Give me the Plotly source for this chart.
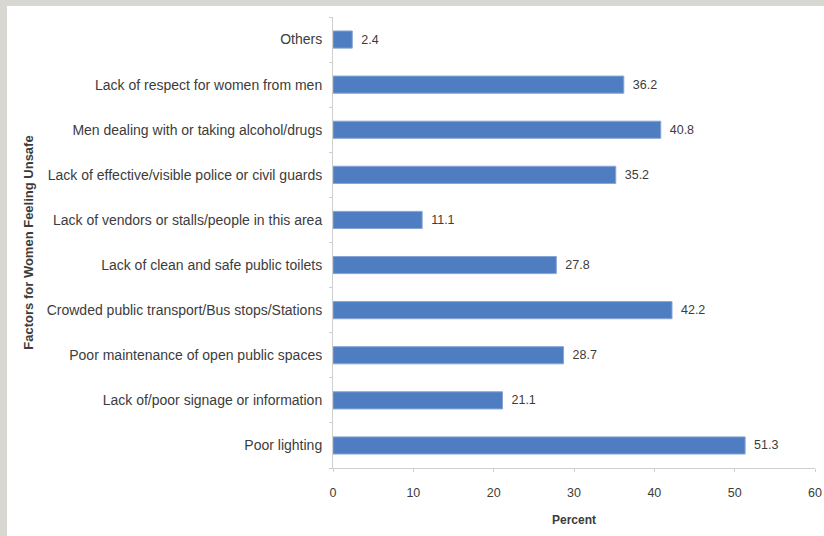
import plotly.graph_objects as go

categories = [
    "Poor lighting",
    "Lack of/poor signage or information",
    "Poor maintenance of open public spaces",
    "Crowded public transport/Bus stops/Stations",
    "Lack of clean and safe public toilets",
    "Lack of vendors or stalls/people in this area",
    "Lack of effective/visible police or civil guards",
    "Men dealing with or taking alcohol/drugs",
    "Lack of respect for women from men",
    "Others",
]
values = [51.3, 21.1, 28.7, 42.2, 27.8, 11.1, 35.2, 40.8, 36.2, 2.4]
x_ticks = [0, 10, 20, 30, 40, 50, 60]

W, H = 824, 536
ML, MR, MT, MB = 333, 9, 17, 68
pw = W - ML - MR
ph = H - MT - MB

font_fam = "Liberation Sans, Arial, sans-serif"
txt = "#3c3c3c"

fig = go.Figure(go.Bar(
    x=values, y=categories, orientation="h",
    marker=dict(color="#4F7DC1", line=dict(color="#86a5d6", width=1)),
    text=[f"\u00a0\u2009{v:.1f}" for v in values], textposition="outside",
    textfont=dict(size=12.5, color=txt, family=font_fam),
    cliponaxis=False,
))

fig.update_layout(
    width=W, height=H,
    margin=dict(l=ML, r=MR, t=MT, b=MB, autoexpand=False),
    paper_bgcolor="#d9d7d2",
    plot_bgcolor="white",
    bargap=0.62,
    showlegend=False,
    font=dict(family=font_fam, size=12, color=txt),
    shapes=[dict(
        type="rect", xref="paper", yref="paper", layer="below",
        x0=(7 - ML) / pw, x1=1.1, y0=-0.3, y1=(H - MB - 6) / ph,
        fillcolor="white", line=dict(width=0),
    )],
    xaxis=dict(
        range=[0, 60], tickvals=x_ticks, showgrid=False, zeroline=False,
        showline=True, linecolor="#cfcfcf", linewidth=1,
        ticks="outside", ticklen=3, tickcolor="#cfcfcf",
        tickfont=dict(size=12.5, color=txt), ticklabelstandoff=10,
        title=dict(text="<b>Percent</b>", font=dict(size=12, color=txt), standoff=16),
    ),
    yaxis=dict(
        showgrid=False, showline=True, linecolor="#cfcfcf", linewidth=1,
        ticks="outside", ticklen=3, tickcolor="#cfcfcf", tickson="boundaries",
        tickfont=dict(size=14, color=txt), ticklabelstandoff=7,
        title=dict(text="<b>Factors for Women Feeling Unsafe</b>",
                   font=dict(size=13, color=txt), standoff=10),
    ),
)

fig.write_html(
    "out.html",
    config={"displayModeBar": False},
    post_script="document.body.style.margin='0';document.body.style.overflow='hidden';",
)
